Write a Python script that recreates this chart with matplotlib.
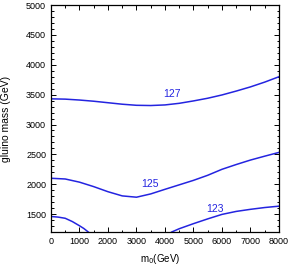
import matplotlib
matplotlib.use("Agg")
import matplotlib.pyplot as plt
from matplotlib.ticker import MultipleLocator

plt.rcParams['font.family'] = ['Liberation Sans', 'DejaVu Sans']

# contour lines of the Higgs mass (GeV)
m0_127 = [0, 500, 1000, 1500, 2000, 2500, 3000, 3500, 4000, 4500, 5000, 5500, 6000, 6500, 7000, 7500, 8000]
mg_127 = [3430, 3425, 3410, 3390, 3365, 3340, 3322, 3318, 3328, 3355, 3395, 3440, 3495, 3560, 3630, 3710, 3800]

m0_125 = [0, 500, 1000, 1500, 2000, 2500, 3000, 3500, 4000, 4500, 5000, 5500, 6000, 6500, 7000, 7500, 8000]
mg_125 = [2100, 2088, 2035, 1960, 1875, 1805, 1783, 1838, 1915, 1990, 2065, 2150, 2250, 2330, 2405, 2470, 2533]

m0_123 = [4235, 4500, 5000, 5500, 6000, 6500, 7000, 7500, 8000]
mg_123 = [1200, 1255, 1340, 1420, 1495, 1545, 1580, 1610, 1633]

m0_low = [0, 250, 500, 750, 1000, 1150, 1310]
mg_low = [1460, 1450, 1430, 1375, 1305, 1260, 1200]

labels = ['127', '125', '123']
label_x = [4235, 3456, 5772]
label_y = [3505, 2008, 1592]

col = '#2424e0'

fig = plt.figure(figsize=(2.93, 2.67), dpi=100)
ax = fig.add_axes([0.174, 0.131, 0.778, 0.850])

for xs, ys in [(m0_127, mg_127), (m0_125, mg_125), (m0_123, mg_123), (m0_low, mg_low)]:
    ax.plot(xs, ys, color=col, lw=1.1)

for t, x, y in zip(labels, label_x, label_y):
    ax.text(x, y, t, color=col, fontsize=7.5, ha='center', va='center')

ax.set_xlim(0, 8000)
ax.set_ylim(1200, 5000)
ax.xaxis.set_major_locator(MultipleLocator(1000))
ax.xaxis.set_minor_locator(MultipleLocator(500))
ax.yaxis.set_major_locator(MultipleLocator(500))
ax.yaxis.set_minor_locator(MultipleLocator(100))
ax.tick_params(which='both', direction='in', top=True, right=True, labelsize=6.5, width=0.7)
ax.tick_params(which='major', length=3.5)
ax.tick_params(which='minor', length=1.8)
for s in ax.spines.values():
    s.set_linewidth(0.9)

ax.set_xlabel('m$_0$(GeV)', fontsize=7)
ax.set_ylabel('gluino mass (GeV)', fontsize=7.5)
ax.xaxis.set_label_coords(0.478, -0.088)
ax.yaxis.set_label_coords(-0.175, 0.5)

fig.savefig('out.png', dpi=100)
